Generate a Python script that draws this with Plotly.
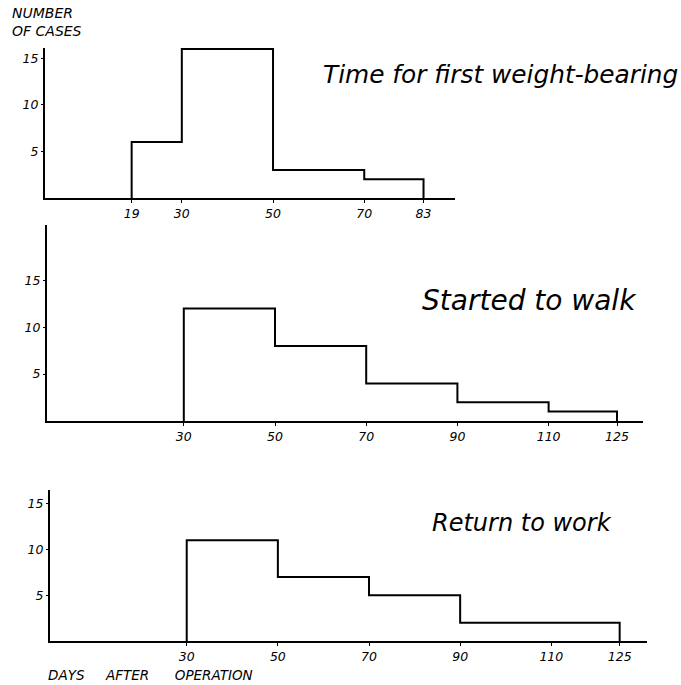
import plotly.graph_objects as go

# ---- data ----
weight_edges = [19, 30, 50, 70, 83]
weight_counts = [6, 16, 3, 2]
weight_ticks = [19, 30, 50, 70, 83]

walk_edges = [30, 50, 70, 90, 110, 125]
walk_counts = [12, 8, 4, 2, 1]

work_edges = [30, 50, 70, 90, 110, 125]
work_counts = [11, 7, 5, 2, 2]

day_ticks = [30, 50, 70, 90, 110, 125]
count_ticks = [5, 10, 15]

titles = ["Time for first weight-bearing", "Started to walk", "Return to work"]

W, H = 681, 685
FONT = "DejaVu Sans"
NB = "\u00a0"


def step_outline(edges, counts):
    xs, ys = [edges[0]], [0]
    for i, c in enumerate(counts):
        xs += [edges[i], edges[i + 1]]
        ys += [c, c]
    xs.append(edges[-1])
    ys.append(0)
    return xs, ys


def px_x(p):
    return p / W


def px_y(p):
    return 1 - p / H


fig = go.Figure()

panels = [
    # edges, counts, xticks, x0px, x1px, xmax, basepx, toppx, ymax
    (weight_edges, weight_counts, weight_ticks, 45, 455, 89.9, 198, 48, 16.1),
    (walk_edges, walk_counts, day_ticks, 47, 643, 130.7, 421, 225, 20.9),
    (work_edges, work_counts, day_ticks, 50, 647, 131.0, 641, 490, 16.5),
]

layout = {}
for i, (edges, counts, xt, x0, x1, xmax, yb, yt, ymax) in enumerate(panels):
    n = "" if i == 0 else str(i + 1)
    xs, ys = step_outline(edges, counts)
    fig.add_trace(go.Scatter(
        x=xs, y=ys, mode="lines",
        line=dict(color="black", width=2),
        xaxis="x" + n, yaxis="y" + n, showlegend=False, hoverinfo="skip",
    ))
    layout["xaxis" + n] = dict(
        domain=[px_x(x0), px_x(x1)], range=[0, xmax], anchor="y" + n,
        showline=True, linecolor="black", linewidth=2,
        showgrid=False, zeroline=False,
        tickmode="array", tickvals=xt, ticktext=[str(v) for v in xt],
        ticks="outside", ticklen=3, tickcolor="black", tickwidth=1,
        tickfont=dict(family=FONT, size=12.5, color="black", style="italic"),
    )
    layout["yaxis" + n] = dict(
        domain=[px_y(yb), px_y(yt)], range=[0, ymax], anchor="x" + n,
        showline=True, linecolor="black", linewidth=2,
        showgrid=False, zeroline=False,
        tickmode="array", tickvals=count_ticks, ticktext=[str(v) for v in count_ticks],
        ticks="outside", ticklen=2, tickcolor="black", tickwidth=1,
        tickfont=dict(family=FONT, size=12.5, color="black", style="italic"),
    )

annotations = [
    dict(text=titles[0], x=px_x(321), y=px_y(75), size=24.8),
    dict(text=titles[1], x=px_x(420), y=px_y(300), size=28),
    dict(text=titles[2], x=px_x(430), y=px_y(523), size=24),
    dict(text="NUMBER", x=px_x(10), y=px_y(13), size=14),
    dict(text="OF" + NB + "CASES", x=px_x(10), y=px_y(31), size=14),
    dict(text="DAYS" + NB * 5 + "AFTER" + NB * 6 + "OPERATION", x=px_x(46), y=px_y(675), size=13.5),
]
ann = []
for a in annotations:
    ann.append(dict(
        text=a["text"], x=a["x"], y=a["y"], xref="paper", yref="paper",
        xanchor="left", yanchor="middle", showarrow=False,
        font=dict(family=FONT, size=a["size"], color="black", style="italic"),
    ))

fig.update_layout(
    width=W, height=H,
    margin=dict(l=0, r=0, t=0, b=0),
    paper_bgcolor="white", plot_bgcolor="white",
    annotations=ann,
    **layout,
)

fig.write_html(
    "out.html",
    config={"displayModeBar": False},
    post_script="document.body.style.margin='0';",
)
